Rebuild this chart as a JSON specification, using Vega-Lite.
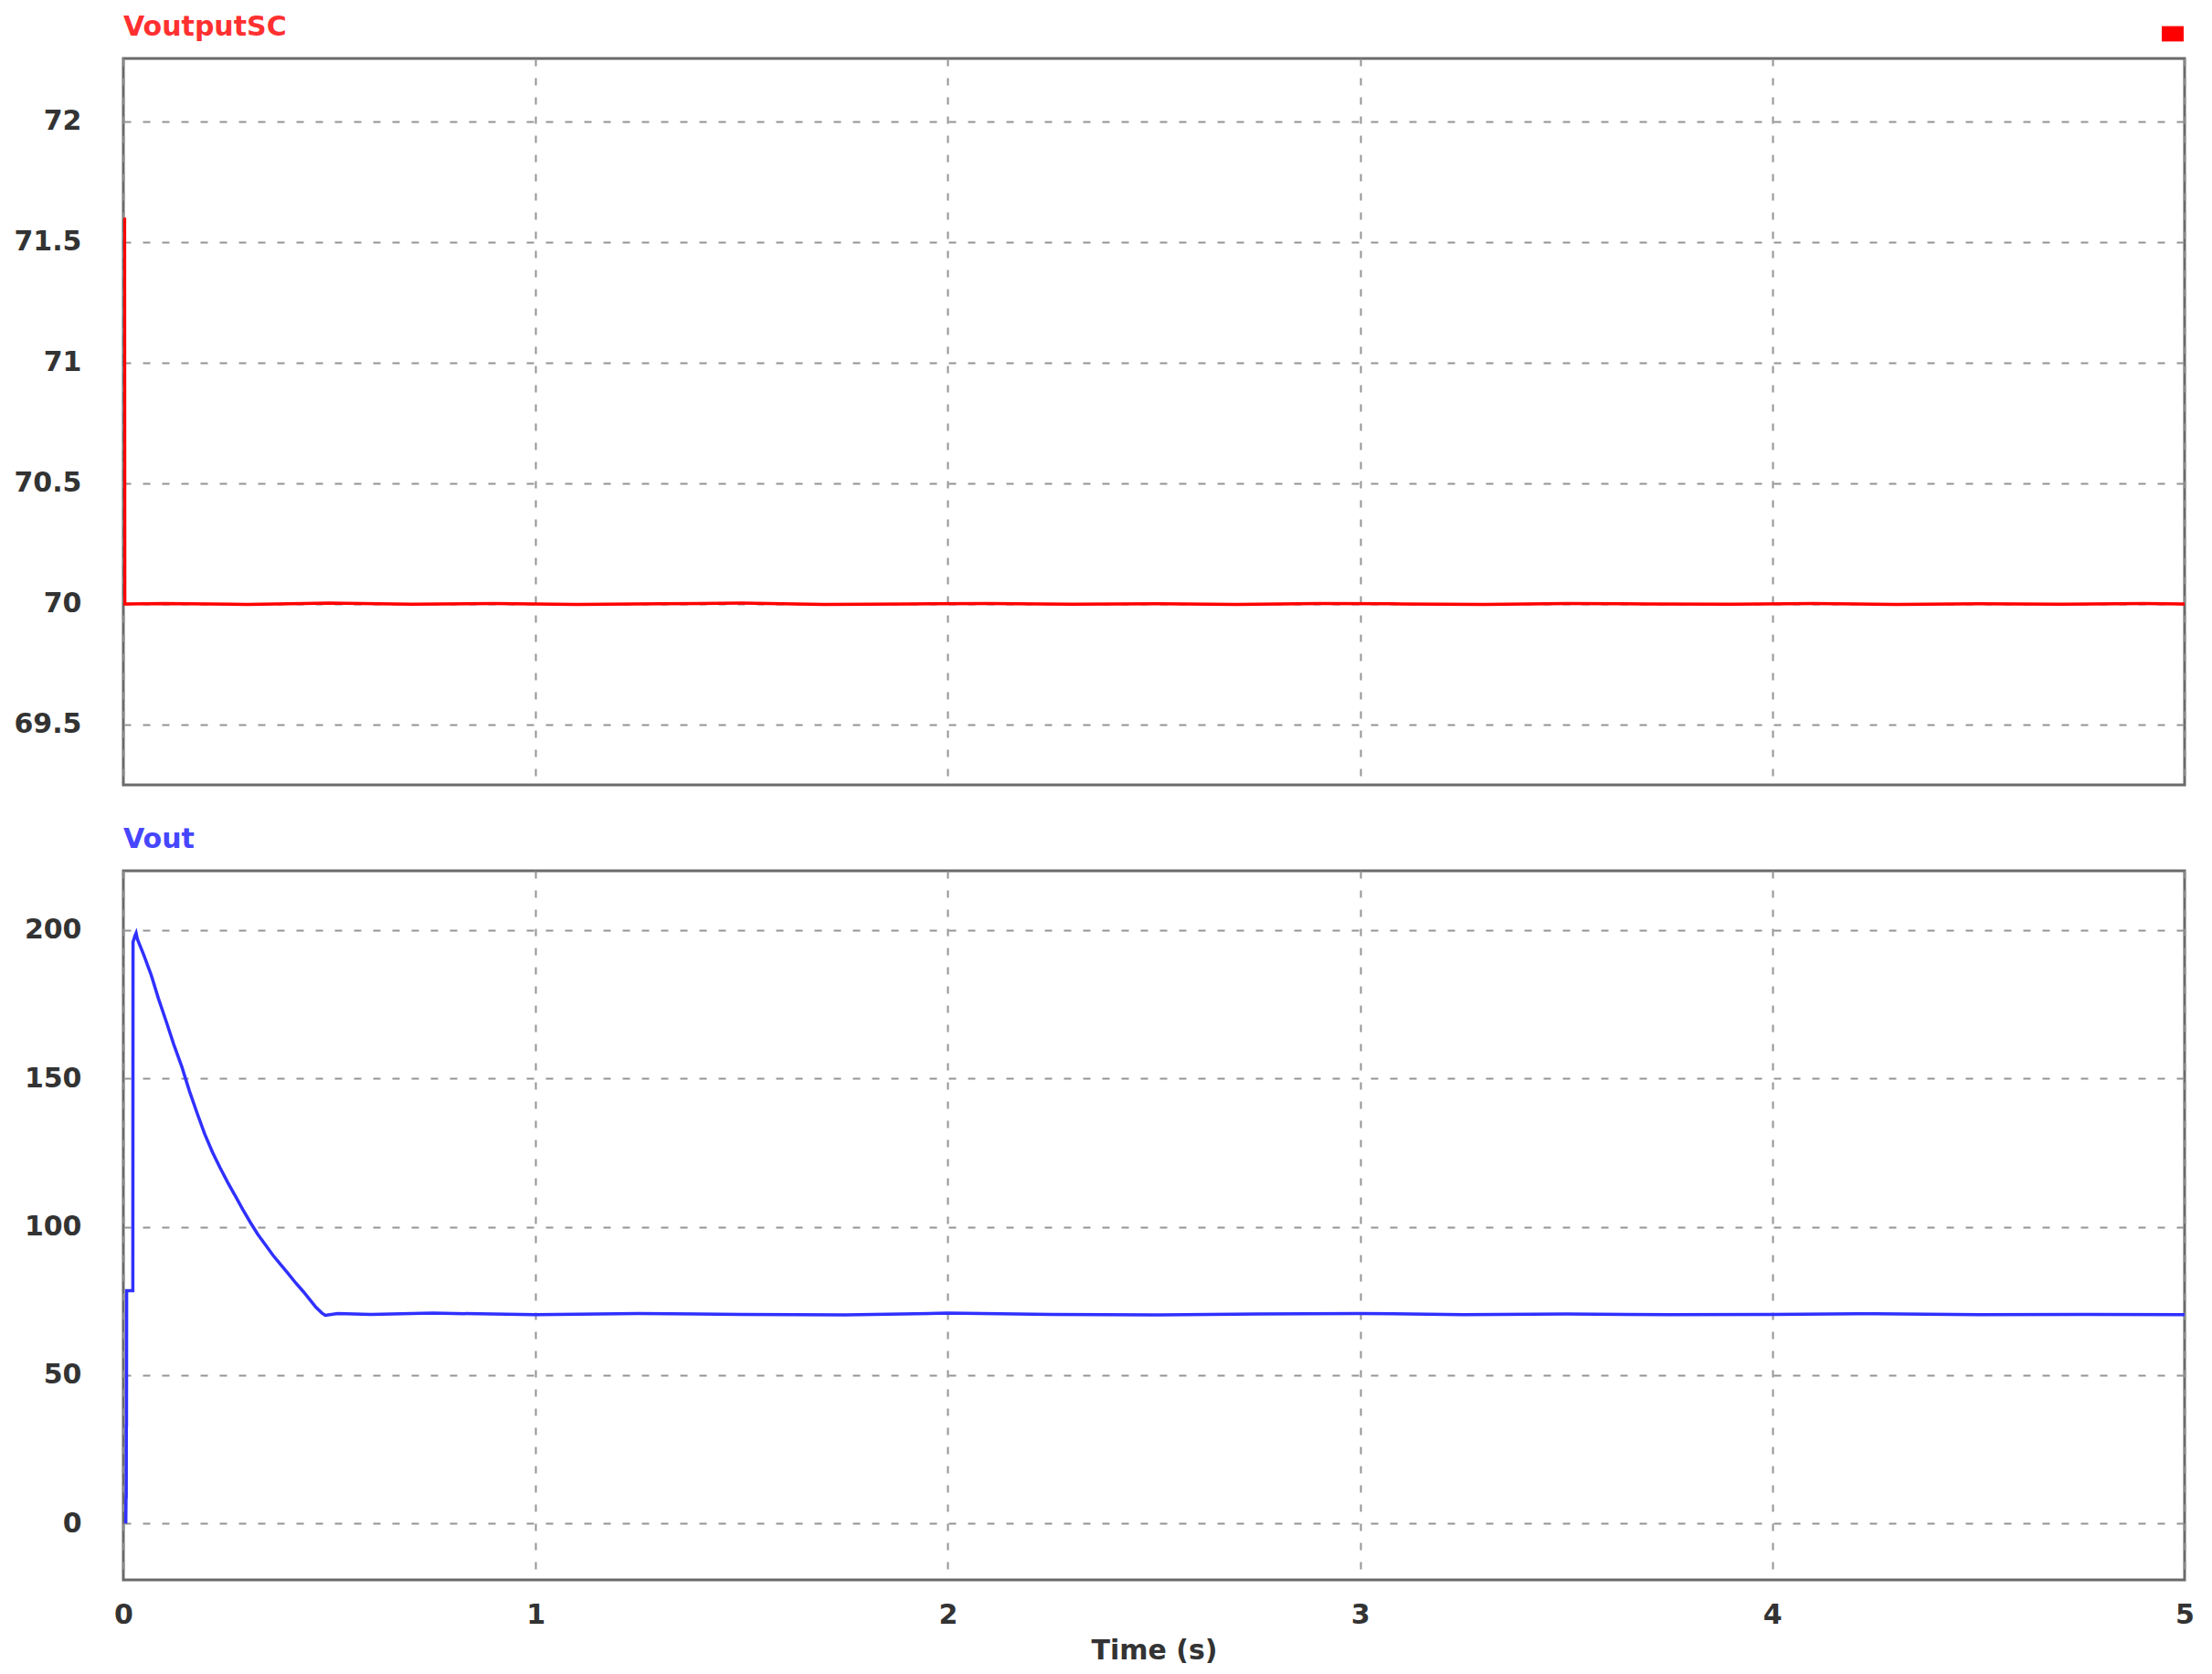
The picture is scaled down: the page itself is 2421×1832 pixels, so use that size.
{
  "$schema": "https://vega.github.io/schema/vega-lite/v6.json",
  "background": "white",
  "padding": {"left": 13, "top": 13, "right": 20, "bottom": 10},
  "spacing": 41,
  "config": {
    "font": "DejaVu Sans",
    "view": {"stroke": "#6a6a6a", "strokeWidth": 3},
    "axis": {
      "labelFont": "DejaVu Sans", "labelFontSize": 30, "labelFontWeight": "bold", "labelColor": "#333333",
      "domain": false, "ticks": false, "tickSize": 0, "labelFlush": false,
      "gridColor": "#949494", "gridDash": [8, 13], "gridWidth": 2, "gridOpacity": 1,
      "titleFont": "DejaVu Sans", "titleFontSize": 30, "titleFontWeight": "bold", "titleColor": "#333333"
    },
    "title": {"font": "DejaVu Sans", "fontSize": 30, "fontWeight": "bold", "anchor": "start", "frame": "group", "offset": 19}
  },
  "datasets": {
    "sc": [
      {"t": 0.003, "v": 71.6}, {"t": 0.0035, "v": 70.0}, {"t": 0.1, "v": 70.002}, {"t": 0.3, "v": 69.998},
      {"t": 0.5, "v": 70.003}, {"t": 0.7, "v": 69.999}, {"t": 0.9, "v": 70.002}, {"t": 1.1, "v": 69.998},
      {"t": 1.3, "v": 70.001}, {"t": 1.5, "v": 70.003}, {"t": 1.7, "v": 69.998}, {"t": 1.9, "v": 70.0},
      {"t": 2.1, "v": 70.002}, {"t": 2.3, "v": 69.999}, {"t": 2.5, "v": 70.001}, {"t": 2.7, "v": 69.998},
      {"t": 2.9, "v": 70.002}, {"t": 3.1, "v": 70.0}, {"t": 3.3, "v": 69.998}, {"t": 3.5, "v": 70.002},
      {"t": 3.7, "v": 70.0}, {"t": 3.9, "v": 69.999}, {"t": 4.1, "v": 70.002}, {"t": 4.3, "v": 69.998},
      {"t": 4.5, "v": 70.001}, {"t": 4.7, "v": 69.999}, {"t": 4.9, "v": 70.002}, {"t": 5.0, "v": 70.0}
    ],
    "vout": [
      {"t": 0.006, "v": 0}, {"t": 0.0065, "v": 9}, {"t": 0.007, "v": 9}, {"t": 0.0072, "v": 33},
      {"t": 0.0076, "v": 33}, {"t": 0.008, "v": 78.5}, {"t": 0.023, "v": 78.5}, {"t": 0.0235, "v": 196},
      {"t": 0.028, "v": 198}, {"t": 0.031, "v": 199}, {"t": 0.034, "v": 197}, {"t": 0.05, "v": 191.5},
      {"t": 0.068, "v": 184.7}, {"t": 0.085, "v": 177.0},
      {"t": 0.105, "v": 168.8}, {"t": 0.122, "v": 161.6}, {"t": 0.142, "v": 153.9}, {"t": 0.16, "v": 145.9}, {"t": 0.179, "v": 138.3}, {"t": 0.197, "v": 131.4}, {"t": 0.216, "v": 125.2},
      {"t": 0.235, "v": 119.8}, {"t": 0.253, "v": 115.0}, {"t": 0.272, "v": 110.3}, {"t": 0.29, "v": 105.8}, {"t": 0.308, "v": 101.5}, {"t": 0.326, "v": 97.5}, {"t": 0.345, "v": 93.9}, {"t": 0.363, "v": 90.4},
      {"t": 0.382, "v": 87.2}, {"t": 0.4, "v": 84.2}, {"t": 0.418, "v": 81.1}, {"t": 0.437, "v": 78.1}, {"t": 0.452, "v": 75.5}, {"t": 0.467, "v": 72.9}, {"t": 0.482, "v": 70.9},
      {"t": 0.49, "v": 70.2}, {"t": 0.52, "v": 70.8}, {"t": 0.6, "v": 70.5}, {"t": 0.75, "v": 70.9},
      {"t": 1.0, "v": 70.4}, {"t": 1.25, "v": 70.8}, {"t": 1.5, "v": 70.5}, {"t": 1.75, "v": 70.3},
      {"t": 2.0, "v": 70.9}, {"t": 2.25, "v": 70.5}, {"t": 2.5, "v": 70.3}, {"t": 2.75, "v": 70.6},
      {"t": 3.0, "v": 70.8}, {"t": 3.25, "v": 70.4}, {"t": 3.5, "v": 70.6}, {"t": 3.75, "v": 70.4},
      {"t": 4.0, "v": 70.5}, {"t": 4.25, "v": 70.7}, {"t": 4.5, "v": 70.4}, {"t": 4.75, "v": 70.5},
      {"t": 5.0, "v": 70.4}
    ]
  },
  "vconcat": [
    {
      "width": 2256,
      "height": 795,
      "title": {"text": "VoutputSC", "color": "#ff3030"},
      "data": {"name": "sc"},
      "mark": {"type": "line", "strokeWidth": 3.5, "clip": true},
      "encoding": {
        "x": {"field": "t", "type": "quantitative", "scale": {"domain": [0, 5], "nice": false},
              "axis": {"labels": false, "title": null, "values": [0, 1, 2, 3, 4, 5], "grid": true, "minExtent": 0, "maxExtent": 0}},
        "y": {"field": "v", "type": "quantitative", "scale": {"domain": [69.25, 72.26], "nice": false, "zero": false},
              "axis": {"values": [69.5, 70, 70.5, 71, 71.5, 72], "title": null, "labelPadding": 46, "minExtent": 120, "maxExtent": 120, "format": "~g"}},
        "color": {"datum": "VoutputSC", "scale": {"range": ["#ff0000"]},
          "legend": {"orient": "none", "legendX": 2231, "legendY": -39, "title": null, "labelExpr": "''", "padding": 0,
                     "labelFontSize": 1, "labelOffset": 0,
                     "encode": {"symbols": {"update": {"fill": {"value": "#ff0000"}, "stroke": {"value": "#ff0000"}, "strokeWidth": {"value": 0},
                                "shape": {"value": "M-1,-0.7H1V0.7H-1Z"}, "size": {"value": 576}, "opacity": {"value": 1}}}}}}
      }
    },
    {
      "width": 2256,
      "height": 776,
      "title": {"text": "Vout", "color": "#4646ff"},
      "data": {"name": "vout"},
      "mark": {"type": "line", "strokeWidth": 3.5, "color": "#3030ff", "clip": true},
      "encoding": {
        "x": {"field": "t", "type": "quantitative", "scale": {"domain": [0, 5], "nice": false},
              "axis": {"title": "Time (s)", "values": [0, 1, 2, 3, 4, 5], "grid": true, "labelPadding": 23, "titlePadding": 9, "format": "d"}},
        "y": {"field": "v", "type": "quantitative", "scale": {"domain": [-19, 220], "nice": false, "zero": false},
              "axis": {"values": [0, 50, 100, 150, 200], "title": null, "labelPadding": 46, "minExtent": 120, "maxExtent": 120}}
      }
    }
  ]
}
